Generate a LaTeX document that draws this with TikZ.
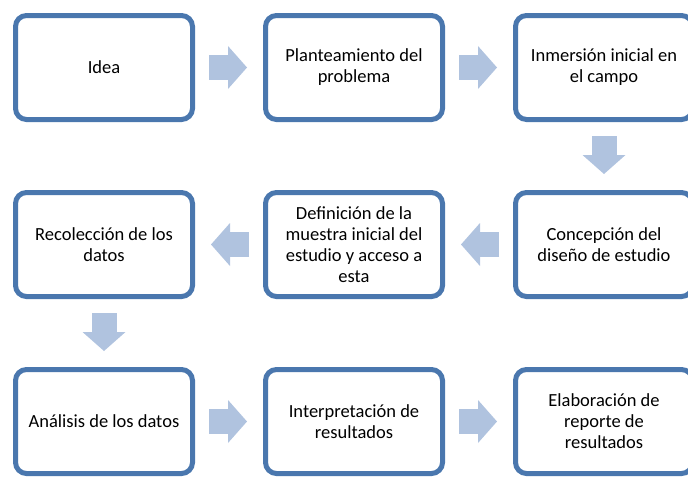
\documentclass[tikz,border=0pt]{standalone}
\usepackage{fontspec}
\setmainfont{Carlito}
\usetikzlibrary{positioning,arrows.meta}
\definecolor{myblue}{RGB}{74,119,174}
\definecolor{mylightblue}{RGB}{176,195,223}

\begin{document}
\begin{tikzpicture}[x=1pt,y=-1pt,
  etapa/.style={draw=myblue, line width=5pt, rounded corners=11pt, fill=white,
    minimum width=177pt, minimum height=104pt, align=center,
    font=\fontsize{18.5}{21}\selectfont},
  flujo/.style={draw=mylightblue, line width=25pt, shorten <=14pt, shorten >=16pt,
    -{Triangle[length=19pt,width=43pt,line width=0pt]}}]
  \useasboundingbox (0,0) rectangle (688,477);

  % fila 1
  \node[etapa] (idea) at (104,67.5) {Idea};
  \node[etapa, right=68pt of idea] (plant) {Planteamiento del\\problema};
  \node[etapa, right=68pt of plant] (inmer) {Inmersión inicial en\\el campo};

  % fila 2
  \node[etapa, below=68pt of inmer] (concep) {Concepción del\\diseño de estudio};
  \node[etapa, below=68pt of plant] (muestra) {Definición de la\\muestra inicial del\\estudio y acceso a\\esta};
  \node[etapa, below=68pt of idea] (recol) {Recolección de los\\datos};

  % fila 3
  \node[etapa, below=68pt of recol] (analisis) {Análisis de los datos};
  \node[etapa, right=68pt of analisis] (interp) {Interpretación de\\resultados};
  \node[etapa, right=68pt of interp] (elab) {Elaboración de\\reporte de\\resultados};

  % flechas
  \draw[flujo] (idea) -- (plant);
  \draw[flujo] (plant) -- (inmer);
  \draw[flujo] (inmer) -- (concep);
  \draw[flujo] (concep) -- (muestra);
  \draw[flujo] (muestra) -- (recol);
  \draw[flujo] (recol) -- (analisis);
  \draw[flujo] (analisis) -- (interp);
  \draw[flujo] (interp) -- (elab);
\end{tikzpicture}
\end{document}
